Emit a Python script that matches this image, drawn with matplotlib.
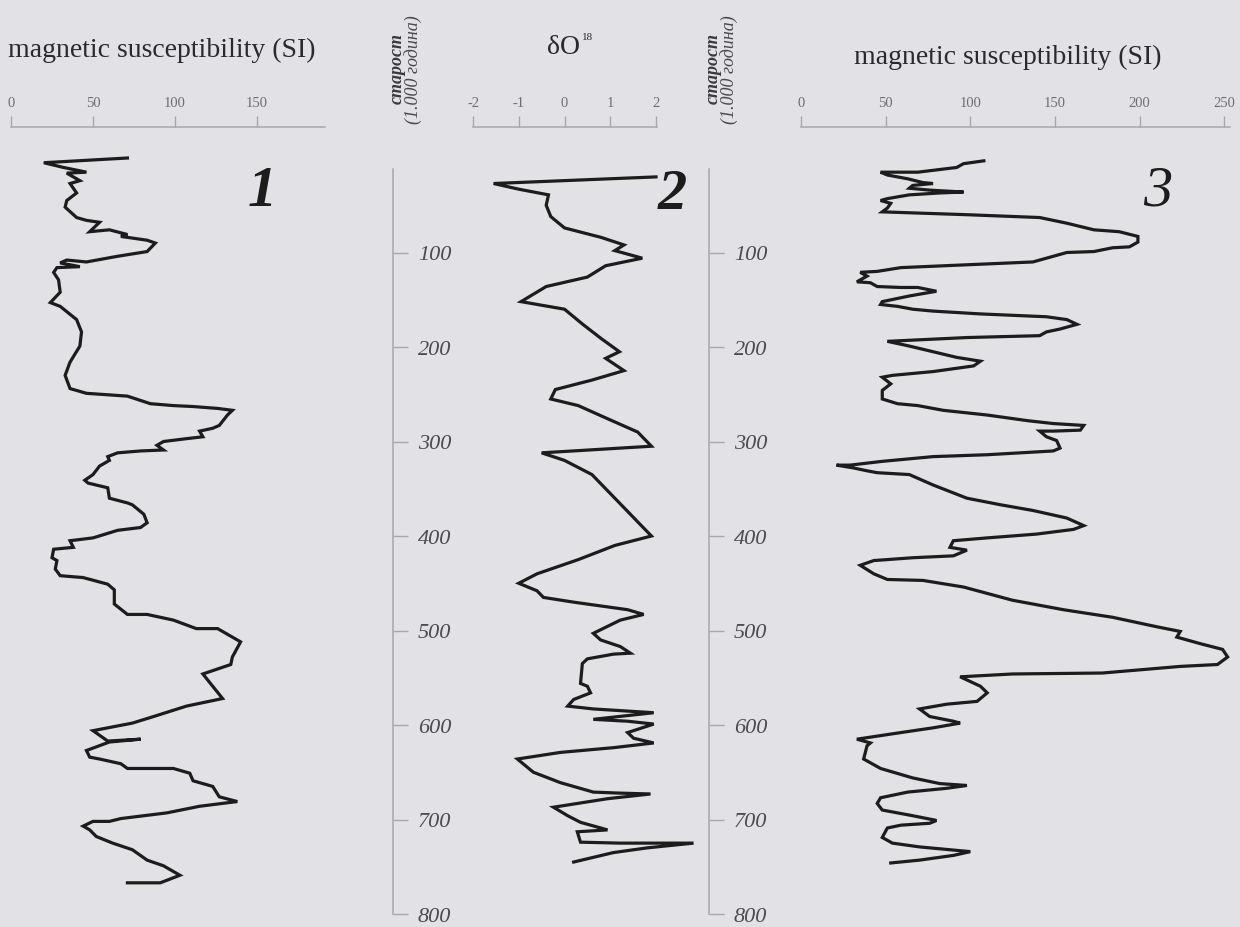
import matplotlib
matplotlib.use("Agg")
import matplotlib.pyplot as plt

# ---- data (age in 1000 yr) ----
age1 = [0, 5, 10, 15, 16, 24, 27, 37, 45, 52,
        63, 66, 68, 78, 76, 81, 83, 87, 90, 99,
        104, 110, 108, 111, 115, 116, 121, 129, 142, 153,
        157, 171, 184, 199, 216, 230, 244, 249, 252, 260,
        262, 263, 265, 267, 272, 283, 286, 289, 295, 297,
        300, 304, 309, 310, 312, 316, 320, 326, 335, 341,
        344, 349, 360, 365, 367, 377, 386, 391, 394, 402,
        405, 412, 414, 423, 426, 435, 442, 444, 451, 457,
        472, 483, 483, 489, 498, 498, 512, 528, 536, 546,
        559, 572, 580, 591, 598, 606, 617, 615, 618, 627,
        634, 636, 641, 646, 646, 651, 659, 665, 676, 681,
        686, 693, 699, 702, 702, 707, 711, 718, 725, 732,
        743, 749, 759, 767, 767]
ms1 = [71, 20, 32, 46, 34, 42, 36, 40, 34, 33,
       40, 46, 54, 48, 60, 71, 67, 83, 88, 83,
       65, 46, 34, 30, 42, 28, 26, 29, 30, 24,
       30, 40, 43, 42, 36, 33, 36, 46, 71, 85,
       99, 111, 126, 135, 132, 127, 123, 115, 117, 107,
       93, 89, 93, 79, 65, 59, 60, 54, 50, 45,
       47, 59, 60, 71, 74, 81, 83, 79, 65, 50,
       36, 38, 26, 25, 28, 27, 30, 44, 59, 63,
       63, 71, 83, 99, 113, 126, 140, 135, 134, 117,
       123, 129, 107, 87, 74, 50, 59, 79, 60, 46,
       48, 54, 67, 71, 99, 109, 111, 123, 127, 138,
       115, 95, 67, 60, 50, 44, 48, 52, 62, 74,
       83, 93, 103, 91, 71]

age2 = [20, 27, 33, 39, 50, 62, 74, 84, 92, 98,
        106, 114, 126, 136, 152, 160, 176, 191, 205, 212,
        225, 235, 245, 255, 262, 275, 290, 305, 312, 320,
        335, 350, 370, 390, 400, 410, 425, 440, 450, 458,
        465, 470, 478, 483, 489, 503, 510, 517, 524, 525,
        530, 535, 556, 559, 566, 573, 580, 583, 587, 594,
        596, 599, 608, 614, 619, 624, 629, 636, 650, 661,
        671, 672, 673, 678, 687, 696, 703, 711, 713, 724,
        725, 725, 730, 735, 745]
d18o = [2.0, -1.55, -1.0, -0.35, -0.4, -0.3, 0.0, 0.8, 1.3, 1.1,
        1.7, 0.9, 0.5, -0.4, -0.95, 0.0, 0.4, 0.8, 1.2, 0.9,
        1.3, 0.6, -0.2, -0.3, 0.3, 0.9, 1.6, 1.9, -0.5, 0.0,
        0.6, 0.9, 1.3, 1.7, 1.9, 1.1, 0.3, -0.6, -1.0, -0.6,
        -0.46, 0.20, 1.38, 1.73, 1.22, 0.63, 0.79, 1.22, 1.44, 1.07,
        0.50, 0.39, 0.35, 0.50, 0.57, 0.20, 0.07, 0.63, 1.95, 0.63,
        1.38, 1.95, 1.38, 1.51, 1.95, 1.07, -0.09, -1.03, -0.68, -0.09,
        0.63, 1.16, 1.88, 0.94, -0.24, 0.07, 0.35, 0.94, 0.28, 0.35,
        1.22, 2.82, 1.81, 1.07, 0.20]

age3 = [3, 6, 10, 13, 15, 15, 18, 22, 26, 27,
        29, 32, 34, 36, 37, 39, 43, 45, 48, 53,
        57, 60, 63, 69, 76, 78, 83, 89, 94, 95,
        99, 100, 106, 110, 113, 116, 120, 121, 125, 131,
        132, 136, 137, 137, 141, 146, 152, 155, 157, 160,
        162, 165, 168, 171, 176, 181, 184, 188, 190, 194,
        199, 205, 211, 215, 220, 226, 230, 232, 239, 246,
        255, 260, 262, 267, 272, 278, 281, 283, 288, 289,
        289, 295, 299, 307, 310, 314, 316, 321, 325, 325,
        328, 331, 333, 335, 346, 360, 367, 373, 381, 389,
        393, 398, 402, 405, 412, 415, 421, 423, 426, 431,
        440, 446, 447, 454, 468, 478, 486, 496, 501, 507,
        514, 520, 528, 536, 538, 541, 545, 546, 549, 559,
        566, 575, 578, 583, 591, 596, 598, 603, 608, 615,
        619, 622, 636, 646, 656, 662, 664, 667, 671, 677,
        683, 690, 696, 701, 704, 706, 709, 719, 725, 729,
        732, 734, 738, 743, 746]
ms3 = [108, 96, 92, 78, 69, 47, 51, 63, 72, 78,
       66, 64, 76, 96, 82, 64, 51, 47, 53, 51,
       48, 98, 141, 157, 173, 188, 199, 199, 194, 184,
       173, 157, 145, 137, 98, 59, 45, 35, 39, 33,
       41, 45, 59, 69, 80, 64, 48, 47, 57, 66,
       78, 106, 145, 157, 163, 153, 145, 141, 98, 51,
       64, 78, 92, 106, 102, 78, 54, 48, 53, 48,
       48, 57, 69, 84, 110, 134, 149, 167, 165, 149,
       141, 145, 151, 153, 149, 110, 78, 48, 29, 21,
       31, 39, 45, 64, 78, 98, 118, 137, 157, 167,
       161, 139, 110, 90, 88, 98, 90, 66, 43, 35,
       43, 51, 72, 96, 125, 155, 184, 210, 224, 222,
       236, 249, 252, 246, 224, 204, 178, 125, 94, 106,
       110, 104, 86, 70, 76, 90, 94, 78, 59, 33,
       41, 39, 37, 47, 66, 82, 98, 86, 63, 47,
       45, 48, 66, 80, 76, 59, 51, 48, 54, 70,
       88, 100, 90, 70, 53]

ticks1 = [0, 50, 100, 150]
ticks2 = [-2, -1, 0, 1, 2]
ticks3 = [0, 50, 100, 150, 200, 250]
age_ticks = [100, 200, 300, 400, 500, 600, 700, 800]

title_ms = "magnetic susceptibility (SI)"
age_label1 = "старост"
age_label2 = "(1.000 година)"

# ---- layout in pixels of the 1240x928 page ----
W, H = 1240, 928
AGE_Y0, AGE_K = 159.0, 0.945       # pixel row of age 0, pixels per kyr
TOP, BOT = 128, 928
BG = "#e2e2e6"
INK = "#1c1c1c"
GREY = "#a8a8ac"

plt.rcParams['font.family'] = ['Liberation Serif', 'DejaVu Serif']


def box(x0, y0, x1, y1):
    return [x0 / W, 1 - y1 / H, (x1 - x0) / W, (y1 - y0) / H]


def age_at(ypix):
    return (ypix - AGE_Y0) / AGE_K


def data_axes(fig, x0, x1, xmin, xmax, ticks, ages, vals):
    ax = fig.add_axes(box(x0, TOP, x1, BOT))
    ax.set_facecolor("none")
    ax.set_xlim(xmin, xmax)
    ax.set_ylim(age_at(BOT), age_at(TOP))
    for side in ["left", "right", "bottom"]:
        ax.spines[side].set_visible(False)
    ax.spines["top"].set_color(GREY)
    ax.spines["top"].set_linewidth(1.1)
    ax.set_yticks([])
    ax.set_xticks(ticks, labels=[str(t) for t in ticks])
    ax.tick_params(axis="x", top=True, bottom=False, labeltop=True, labelbottom=False,
                   direction="out", length=8, width=1, color=GREY,
                   labelsize=10.5, labelcolor="#6e6e72", pad=5)
    ax.plot(vals, ages, color=INK, lw=2.3, clip_on=False, solid_joinstyle="miter")
    return ax


def age_axes(fig, xline):
    ax = fig.add_axes(box(xline - 40, TOP, xline, BOT))
    ax.set_facecolor("none")
    ax.set_ylim(age_at(BOT), age_at(TOP))
    ax.set_xticks([])
    for side in ["left", "top", "bottom"]:
        ax.spines[side].set_visible(False)
    ax.spines["right"].set_color(GREY)
    ax.spines["right"].set_linewidth(1.1)
    ax.spines["right"].set_bounds(12, 800)
    ax.yaxis.tick_right()
    ax.set_yticks(age_ticks, labels=[str(t) for t in age_ticks], fontstyle="italic")
    ax.tick_params(axis="y", direction="out", length=11, width=1, color=GREY,
                   labelsize=16, labelcolor="#4c4c50", pad=7)
    return ax


fig = plt.figure(figsize=(W / 100, H / 100), dpi=100, facecolor=BG)

data_axes(fig, 11, 325, 0, (325 - 11) / 1.64, ticks1, age1, ms1)
data_axes(fig, 473, 657, -2, -2 + (657 - 473) / 45.75, ticks2, age2, d18o)
data_axes(fig, 801, 1230, 0, (1230 - 801) / 1.693, ticks3, age3, ms3)
age_axes(fig, 393)
age_axes(fig, 709)

# headers
fig.text(162 / W, 1 - 50 / H, title_ms, ha="center", va="center", fontsize=20, color="#2a2a2e")
fig.text(1008 / W, 1 - 57 / H, title_ms, ha="center", va="center", fontsize=20, color="#2a2a2e")
fig.text(563 / W, 1 - 47 / H, "δO", ha="center", va="center", fontsize=20, color="#2a2a2e")
fig.text(582 / W, 1 - 38 / H, "18", ha="left", va="center", fontsize=8, color="#2a2a2e")

for xc in (397, 713):
    fig.text(xc / W, 1 - 68 / H, age_label1, rotation=90, ha="center", va="center",
             fontsize=13, fontstyle="italic", fontweight="bold", color="#3a3a3e")
    fig.text((xc + 16) / W, 1 - 70 / H, age_label2, rotation=90, ha="center", va="center",
             fontsize=13, fontstyle="italic", color="#4a4a4e")

# curve numbers
fig.text(262 / W, 1 - 192 / H, "1", ha="center", va="center", fontsize=42,
         fontstyle="italic", fontweight="bold", color=INK)
fig.text(672 / W, 1 - 195 / H, "2", ha="center", va="center", fontsize=42,
         fontstyle="italic", fontweight="bold", color=INK)
fig.text(1158 / W, 1 - 192 / H, "3", ha="center", va="center", fontsize=42,
         fontstyle="italic", color=INK)

fig.savefig("out.png", dpi=100, facecolor=BG)
